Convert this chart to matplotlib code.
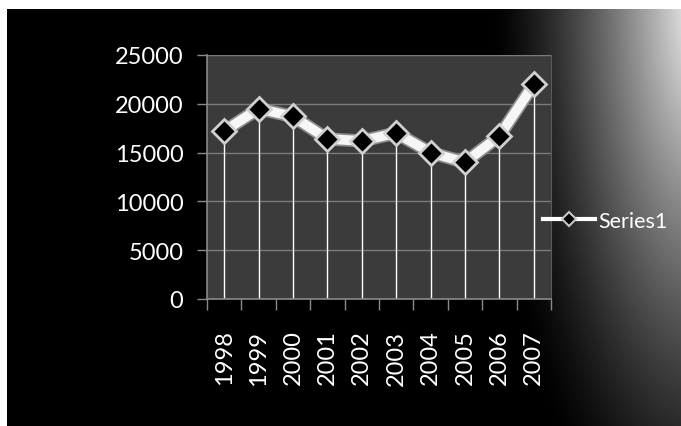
import numpy as np
import matplotlib
matplotlib.use("Agg")
import matplotlib.pyplot as plt
from matplotlib.lines import Line2D

years = ['1998', '1999', '2000', '2001', '2002', '2003', '2004', '2005', '2006', '2007']
series1 = [17200, 19500, 18700, 16400, 16200, 17000, 15000, 14000, 16700, 22000]
y_ticks = [0, 5000, 10000, 15000, 20000, 25000]

plt.rcParams['font.family'] = ['Lato', 'DejaVu Sans']

W, H = 681, 427
fig = plt.figure(figsize=(W / 100, H / 100), dpi=100, facecolor='white')

# black background with a white glow in the top-right corner
bg = fig.add_axes([7 / W, 0, (W - 7) / W, (H - 10) / H])
px = np.arange(7, W) + 0.5
py = np.arange(10, H) + 0.5
gx, gy = np.meshgrid(px, py)
r = np.sqrt(((gx - 705) / 215.0) ** 2 + ((gy - 0) / 600.0) ** 2)
glow = np.clip(1 - r, 0, 1) ** 1.4
bg.imshow(glow, cmap='gray', vmin=0, vmax=1, aspect='auto', interpolation='bilinear')
bg.set_axis_off()

ax = fig.add_axes([207 / W, (H - 300) / H, 344 / W, 244 / H])
ax.set_facecolor('#3b3b3b')
x = np.arange(len(years))

ax.set_ylim(0, 25000)
ax.set_xlim(-0.5, len(years) - 0.5)
ax.set_yticks(y_ticks)
ax.yaxis.grid(True, color='#7a7a7a', lw=1)
ax.set_axisbelow(True)

ax.vlines(x, 0, series1, color='white', lw=1, zorder=2)
ax.plot(x, series1, color='#8c8c8c', lw=9.5, solid_joinstyle='round', zorder=3)
ax.plot(x, series1, color='#f6f6f6', lw=7, solid_joinstyle='round', zorder=4)
ax.plot(x, series1, ls='none', marker='D', ms=12.5, mfc='black', mec='#d0d0d0',
        mew=2, zorder=5)

ax.set_xticks(x)
ax.set_xticklabels(years, rotation=90)
ax.set_xticks(np.arange(-0.5, len(years), 1), minor=True)
ax.tick_params(axis='x', which='major', length=0, pad=22, colors='white', labelsize=17)
ax.tick_params(axis='x', which='minor', length=8, width=1, color='#8a8a8a', direction='out')
ax.tick_params(axis='y', length=7, width=1, color='#8a8a8a', colors='white',
               labelsize=17, pad=10)
ax.tick_params(axis='y', color='#8a8a8a')

for side in ['left', 'bottom']:
    ax.spines[side].set_color('#8a8a8a')
    ax.spines[side].set_linewidth(1.2)
ax.spines['top'].set_visible(False)
ax.spines['right'].set_color('#5a5a5a')

handle = Line2D([], [], color='white', lw=3, marker='D', ms=7, mfc='black',
                mec='#c8c8c8', mew=1.5)
fig.legend([handle], ['Series1'], loc='center left',
           bbox_to_anchor=(543 / W, 1 - 222 / H), frameon=False,
           handlelength=2.4, handletextpad=0.15, borderpad=0, borderaxespad=0,
           labelcolor='white', prop={'size': 15.5})

fig.savefig('out.png', dpi=100, facecolor='white')
